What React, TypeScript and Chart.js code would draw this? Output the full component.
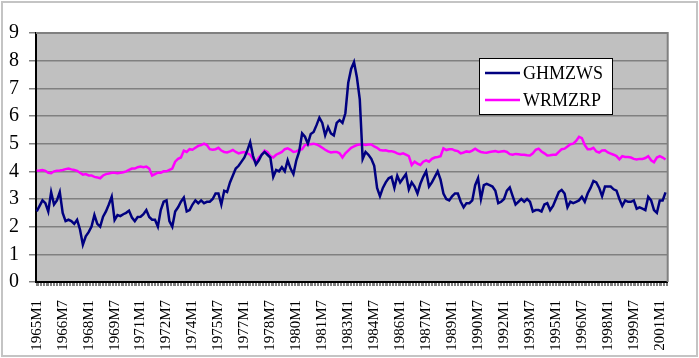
import React, { useEffect, useRef } from "react";
import { Chart, registerables } from "chart.js";

Chart.register(...registerables);

// Monthly categories 1965M1 .. 2001M6
const START_YEAR = 1965;
const N_MONTHS = 438;
const categories: string[] = [];
for (let k = 0; k < N_MONTHS; k++) {
  categories.push(`${START_YEAR + Math.floor(k / 12)}M${(k % 12) + 1}`);
}
const LABEL_EVERY = 18;
const SAMPLE_STEP = 2; // values below are read every 2 months

const seriesNames = ["GHMZWS", "WRMZRP"];

const ghmzws = [
  2.55, 2.75, 2.95, 2.85, 2.55, 3.25, 2.8, 2.95, 3.25, 2.5,
  2.2, 2.25, 2.2, 2.1, 2.25, 1.9, 1.35, 1.65, 1.8, 2.0,
  2.42, 2.1, 2.0, 2.36, 2.55, 2.8, 3.08, 2.24, 2.42, 2.38,
  2.45, 2.5, 2.58, 2.33, 2.2, 2.35, 2.36, 2.45, 2.6, 2.35,
  2.25, 2.25, 2.0, 2.6, 2.9, 2.95, 2.2, 2.0, 2.55, 2.7,
  2.9, 3.05, 2.55, 2.6, 2.8, 2.95, 2.85, 2.95, 2.85, 2.9,
  2.9, 3.0, 3.2, 3.2, 2.8, 3.3, 3.25, 3.6, 3.85, 4.1,
  4.2, 4.35, 4.5, 4.75, 5.05, 4.55, 4.25, 4.4, 4.6, 4.7,
  4.6, 4.5, 3.8, 4.05, 4.0, 4.15, 4.0, 4.4, 4.1, 3.9,
  4.4, 4.72, 5.37, 5.25, 5.0, 5.35, 5.42, 5.67, 5.94, 5.75,
  5.3, 5.6, 5.37, 5.3, 5.75, 5.85, 5.75, 6.1, 7.2, 7.7,
  7.95, 7.4, 6.6, 4.45, 4.7, 4.6, 4.45, 4.2, 3.4, 3.1,
  3.4, 3.6, 3.75, 3.8, 3.4, 3.84, 3.6, 3.75, 3.9, 3.35,
  3.6, 3.45, 3.2, 3.55, 3.8, 4.0, 3.45, 3.6, 3.8, 4.0,
  3.7, 3.2, 3.0, 2.95, 3.1, 3.2, 3.2, 2.9, 2.7, 2.85,
  2.85, 2.95, 3.5, 3.75, 3.0, 3.5, 3.55, 3.5, 3.45, 3.3,
  2.85, 2.9, 3.0, 3.3, 3.42, 3.1, 2.8, 2.9, 3.0, 2.9,
  3.0, 2.9, 2.55, 2.6, 2.6, 2.55, 2.8, 2.85, 2.6, 2.75,
  3.0, 3.25, 3.33, 3.2, 2.7, 2.9, 2.85, 2.9, 2.95, 3.08,
  2.9, 3.2, 3.4, 3.65, 3.6, 3.4, 3.1, 3.45, 3.45, 3.45,
  3.35, 3.3, 3.0, 2.75, 2.95, 2.9, 2.9, 2.95, 2.65, 2.7,
  2.65, 2.6, 3.08, 2.95, 2.6, 2.5, 2.95, 2.95, 3.24,
];

const wrmzrp = [
  4.02, 4.03, 4.05, 4.02, 3.95, 3.93, 4.0, 4.02, 4.03, 4.05,
  4.08, 4.1, 4.07, 4.05, 4.02, 3.95, 3.88, 3.9, 3.85, 3.85,
  3.8, 3.78, 3.75, 3.85, 3.9, 3.92, 3.95, 3.95, 3.93, 3.95,
  3.97, 4.0, 4.05, 4.1, 4.1, 4.15, 4.17, 4.15, 4.17, 4.1,
  3.85, 3.9, 3.95, 3.95, 4.0, 4.0, 4.05, 4.1, 4.35, 4.45,
  4.5, 4.75, 4.7, 4.8, 4.78, 4.85, 4.92, 4.95, 5.0, 4.95,
  4.8, 4.78, 4.8, 4.85, 4.75, 4.7, 4.68, 4.72, 4.77, 4.7,
  4.65, 4.68, 4.7, 4.65, 4.6, 4.45, 4.35, 4.5, 4.6, 4.75,
  4.7, 4.55, 4.5, 4.6, 4.65, 4.7, 4.8, 4.83, 4.78, 4.7,
  4.72, 4.77, 4.8, 4.95, 4.97, 4.98, 5.0, 4.97, 4.92, 4.85,
  4.78, 4.72, 4.68, 4.7, 4.7, 4.65, 4.5, 4.65, 4.75, 4.85,
  4.9, 4.95, 4.97, 4.98, 4.95, 4.97, 4.97, 4.9, 4.85, 4.77,
  4.75, 4.76, 4.73, 4.73, 4.7, 4.65, 4.62, 4.65, 4.6, 4.55,
  4.23, 4.35, 4.28, 4.23, 4.35, 4.4, 4.35, 4.45, 4.5, 4.52,
  4.55, 4.83, 4.77, 4.8, 4.8, 4.75, 4.73, 4.65, 4.68, 4.72,
  4.7, 4.75, 4.82, 4.75, 4.7, 4.68, 4.67, 4.7, 4.72, 4.73,
  4.7, 4.72, 4.73, 4.7, 4.62, 4.6, 4.63, 4.62, 4.6, 4.6,
  4.58, 4.57, 4.65, 4.78, 4.82, 4.72, 4.65, 4.57, 4.58, 4.6,
  4.6, 4.7, 4.8, 4.82, 4.9, 4.98, 5.0, 5.1, 5.25, 5.2,
  4.95, 4.8, 4.8, 4.85, 4.72, 4.68, 4.75, 4.76, 4.68, 4.64,
  4.6, 4.55, 4.43, 4.55, 4.52, 4.52, 4.5, 4.45, 4.43, 4.45,
  4.45, 4.48, 4.55, 4.4, 4.33, 4.5, 4.55, 4.5, 4.43,
];

const yTicks = [0, 1, 2, 3, 4, 5, 6, 7, 8, 9];
const colors = ["#000080", "#FF00FF"];
const FONT = "'Liberation Serif', 'Times New Roman', serif";

function expand(vals: number[]): (number | null)[] {
  const out: (number | null)[] = new Array(N_MONTHS).fill(null);
  vals.forEach((v, k) => {
    const idx = k * SAMPLE_STEP;
    if (idx < N_MONTHS) out[idx] = v;
  });
  return out;
}

const framePlugin = {
  id: "frame",
  beforeDraw(chart: any) {
    const { ctx, width, height, chartArea } = chart;
    ctx.save();
    ctx.fillStyle = "#ffffff";
    ctx.fillRect(0, 0, width, height);
    ctx.strokeStyle = "#c4c4c4";
    ctx.lineWidth = 2;
    ctx.strokeRect(2, 2, width - 4, height - 4);
    ctx.fillStyle = "#c0c0c0";
    ctx.fillRect(chartArea.left, chartArea.top, chartArea.right - chartArea.left, chartArea.bottom - chartArea.top);
    ctx.restore();
  },
  beforeDatasetsDraw(chart: any) {
    const { ctx, chartArea } = chart;
    ctx.save();
    ctx.strokeStyle = "#808080";
    ctx.lineWidth = 2;
    ctx.beginPath();
    ctx.moveTo(chartArea.left, chartArea.top);
    ctx.lineTo(chartArea.right, chartArea.top);
    ctx.lineTo(chartArea.right, chartArea.bottom);
    ctx.stroke();
    ctx.restore();
  },
  afterDraw(chart: any) {
    const { ctx } = chart;
    const x = 479.5, y = 58.5, w = 133, h = 56;
    ctx.save();
    ctx.fillStyle = "#ffffff";
    ctx.fillRect(x, y, w, h);
    ctx.strokeStyle = "#000000";
    ctx.lineWidth = 1;
    ctx.strokeRect(x, y, w, h);
    ctx.font = `18px ${FONT}`;
    ctx.textBaseline = "middle";
    ctx.textAlign = "left";
    chart.data.datasets.forEach((ds: any, i: number) => {
      const ly = 73 + i * 27;
      ctx.strokeStyle = ds.borderColor;
      ctx.lineWidth = ds.borderWidth;
      ctx.beginPath();
      ctx.moveTo(485, ly);
      ctx.lineTo(520, ly);
      ctx.stroke();
      ctx.fillStyle = "#000000";
      ctx.fillText(ds.label, 523, ly + 1);
    });
    ctx.restore();
  },
};

export default function App() {
  const ref = useRef<HTMLCanvasElement | null>(null);

  useEffect(() => {
    document.body.style.margin = "0";
    if (!ref.current) return;
    const chart = new Chart(ref.current, {
      type: "line",
      data: {
        labels: categories,
        datasets: [
          {
            label: seriesNames[0],
            data: expand(ghmzws),
            borderColor: colors[0],
            borderWidth: 2.5,
            pointRadius: 0,
            tension: 0,
            spanGaps: true,
          },
          {
            label: seriesNames[1],
            data: expand(wrmzrp),
            borderColor: colors[1],
            borderWidth: 2.5,
            pointRadius: 0,
            tension: 0,
            spanGaps: true,
          },
        ],
      },
      options: {
        animation: false,
        responsive: false,
        devicePixelRatio: 1,
        layout: { padding: { left: 0, top: 33, right: 19, bottom: 0 } },
        plugins: {
          legend: { display: false },
          tooltip: { enabled: false },
        },
        scales: {
          x: {
            type: "category",
            offset: true,
            grid: {
              offset: true,
              drawOnChartArea: false,
              drawTicks: true,
              tickLength: 4,
              color: "#808080",
              lineWidth: 1,
            },
            border: { color: "#000000", width: 2 },
            ticks: {
              autoSkip: false,
              maxRotation: 90,
              minRotation: 90,
              padding: 14,
              color: "#000000",
              font: { family: FONT, size: 15 },
              callback: (_v: any, index: number) =>
                index % LABEL_EVERY === 0 ? categories[index] : "",
            },
            afterFit: (scale: any) => {
              scale.height = 76;
            },
          },
          y: {
            min: 0,
            max: 9,
            afterBuildTicks: (scale: any) => {
              scale.ticks = yTicks.map((v) => ({ value: v }));
            },
            grid: {
              color: "#808080",
              lineWidth: 1.5,
              drawTicks: true,
              tickLength: 7,
            },
            border: { color: "#000000", width: 2 },
            ticks: {
              padding: 10,
              color: "#000000",
              font: { family: FONT, size: 20 },
            },
            afterFit: (scale: any) => {
              scale.width = 36;
            },
          },
        },
      },
      plugins: [framePlugin],
    });
    return () => chart.destroy();
  }, []);

  return (
    <canvas
      ref={ref}
      width={699}
      height={358}
      style={{ display: "block", width: 699, height: 358 }}
    />
  );
}
